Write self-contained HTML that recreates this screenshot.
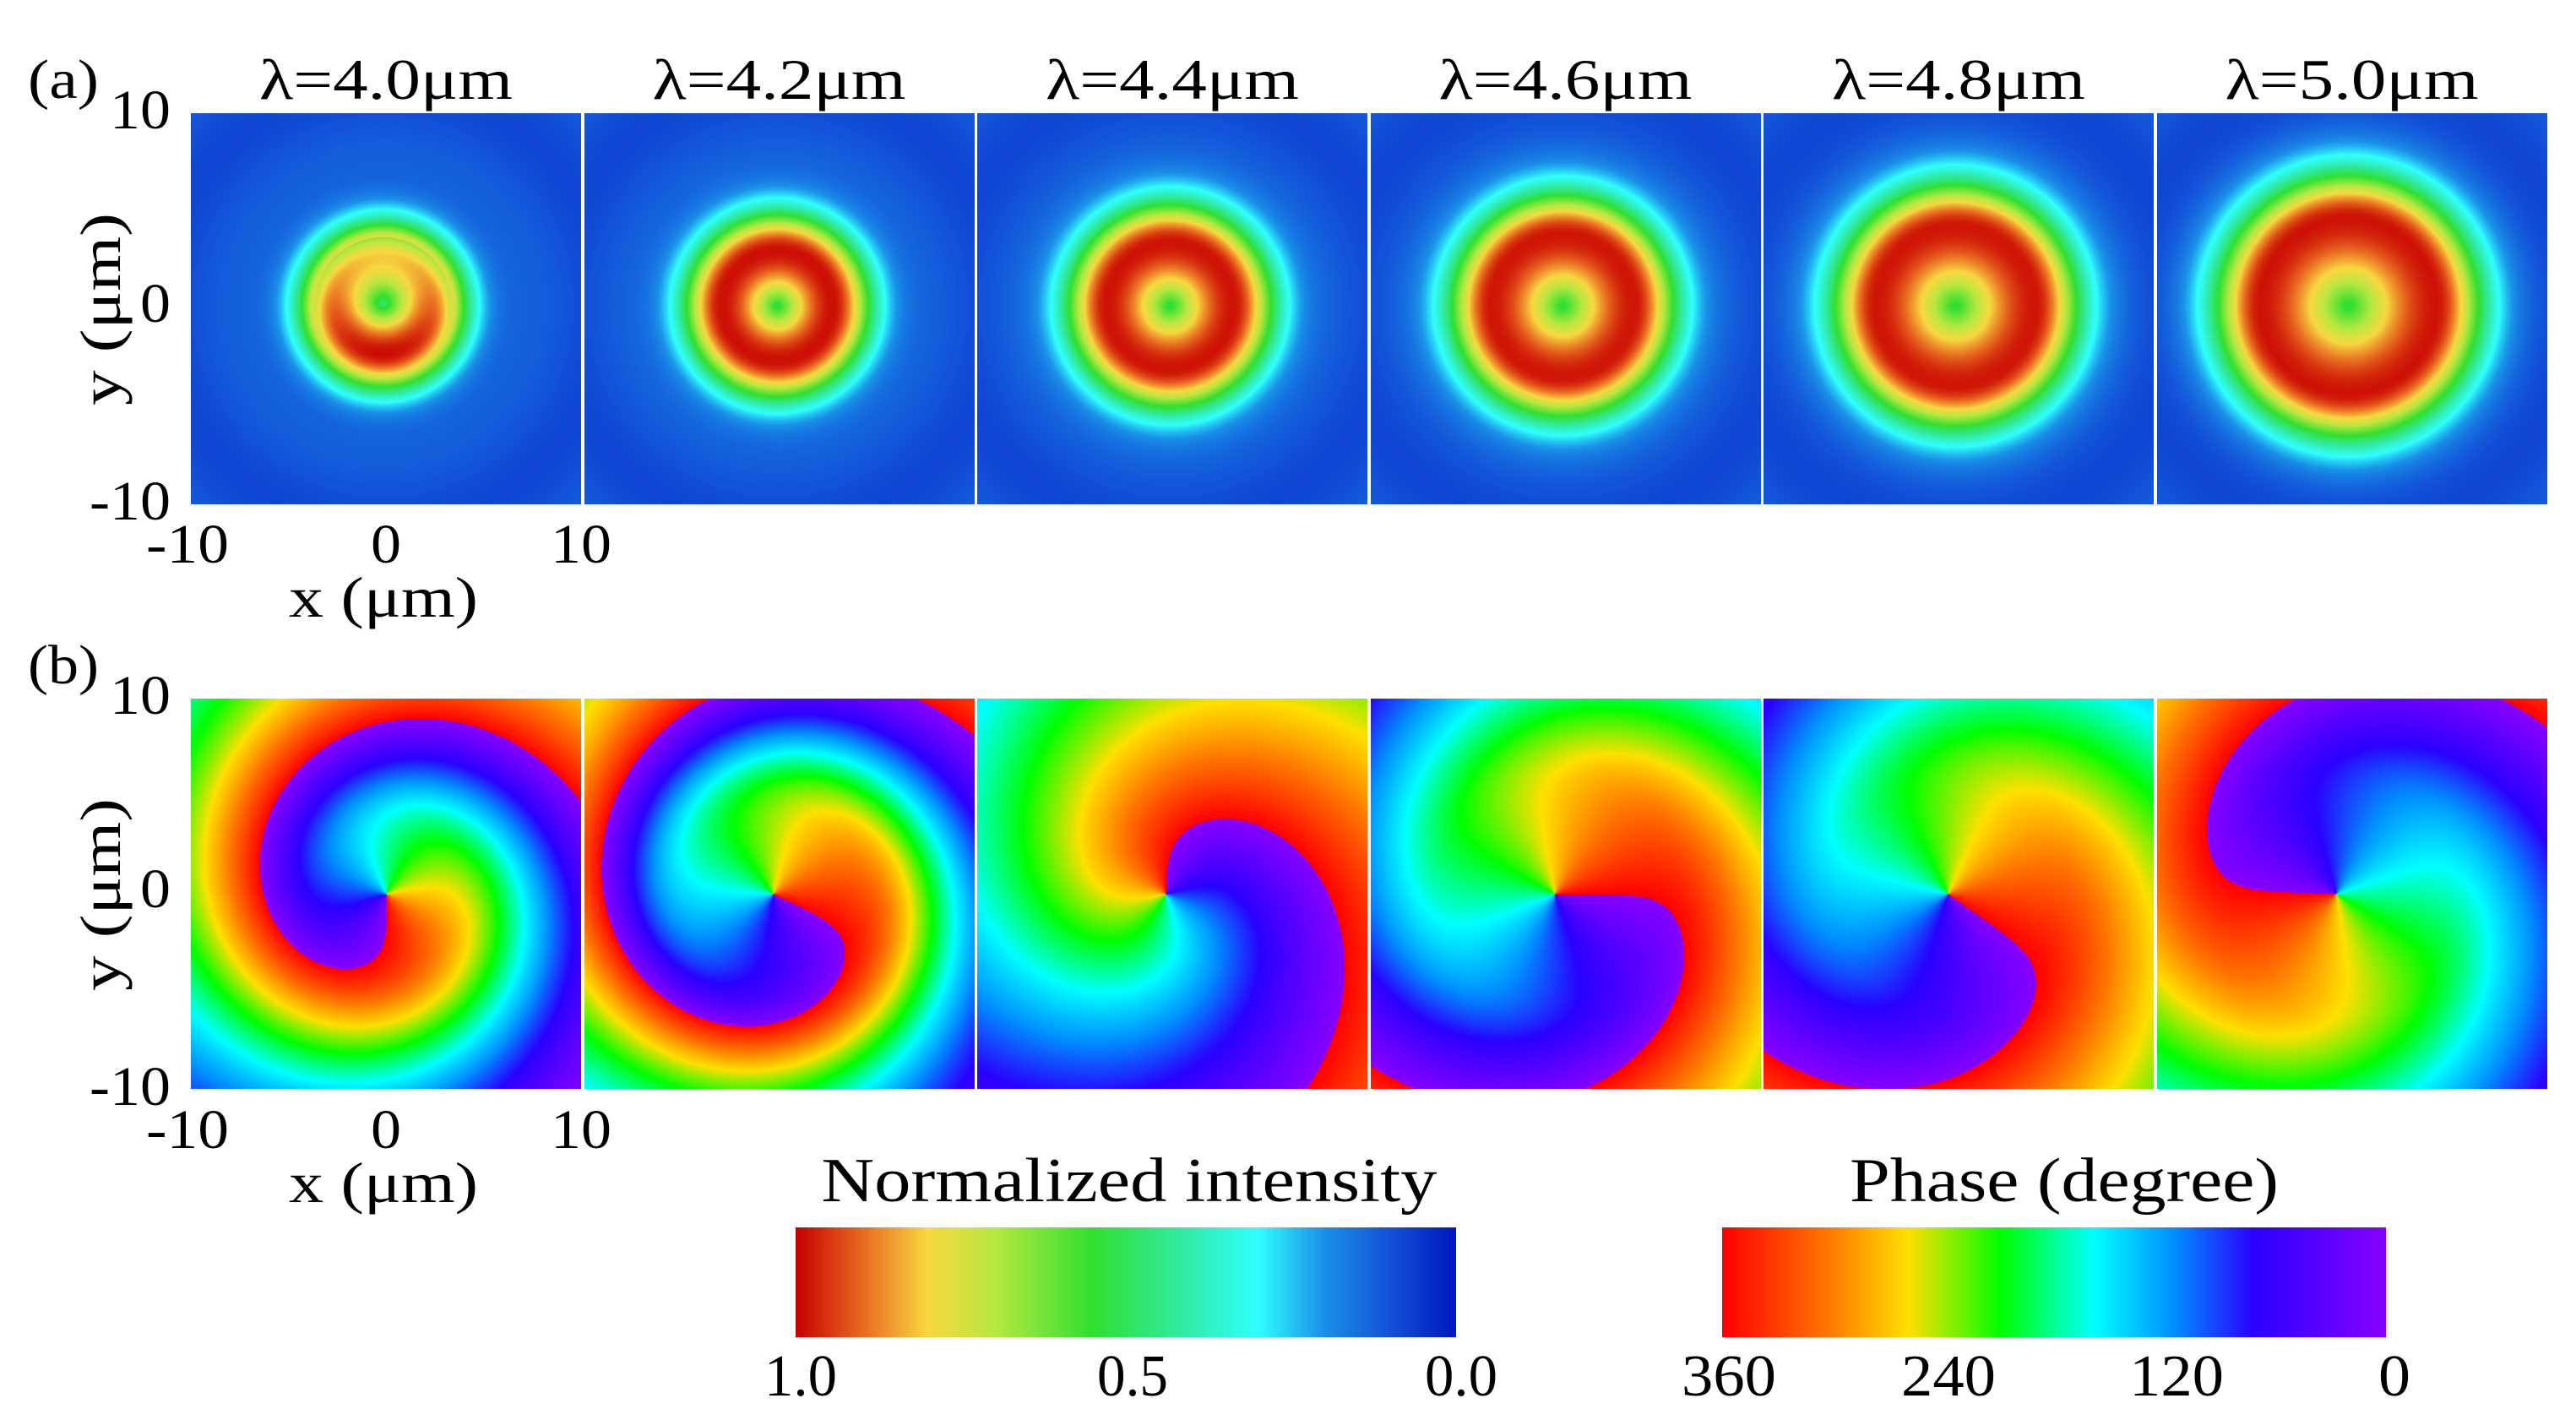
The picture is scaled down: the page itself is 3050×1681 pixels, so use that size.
<!DOCTYPE html>
<html><head><meta charset="utf-8"><style>
html,body{margin:0;padding:0;background:#fff;}
#root{position:relative;width:3050px;height:1681px;overflow:hidden;background:#fff;}
canvas{position:absolute;display:block;}
svg{position:absolute;left:0;top:0;}
text{font-family:"Liberation Serif",serif;fill:#000;}
</style></head><body>
<div id="root">
<svg id="txt" width="3050" height="1681"></svg>
</div>
<script>
// ---- data ----
var wavelengths = ["4.0","4.2","4.4","4.6","4.8","5.0"];
var ringRadius = [58,67,76,85,94,103];
var ringOuterWidth = [47,50,53,55,58,60];
var intCenterDx = [-4,-3,-3,-4,-4,-5];
var phaseStartAngle = [-88,-25,90,0,-35,178];
var phaseTwistRate = [1.8,2.3,0.7,1.0,0.8,0.9];
var phaseTwistStart = [95,130,60,150,150,150];
var phaseTwistMax = [400,380,300,300,300,300];
var phaseCenterDx = [0,-8,-8,-13,-13,-19];
var axisTicks = ["-10","0","10"];
var intensityTicks = ["1.0","0.5","0.0"];
var phaseTicks = ["360","240","120","0"];
var intStops = [[0,"#0018c0"],[0.1,"#1252d8"],[0.2,"#1a90e8"],[0.3,"#30ffff"],[0.42,"#30eaa0"],[0.55,"#30e030"],[0.7,"#b8e840"],[0.8,"#f8d840"],[0.9,"#e86a20"],[1,"#c80000"]];
var phaseStops = [[0,"#ff0000"],[0.15,"#ff7000"],[0.28,"#ffe000"],[0.42,"#00ff00"],[0.56,"#00ffff"],[0.68,"#0090ff"],[0.8,"#2a00ff"],[1,"#8800ff"]];

var PX0=226, PITCH=465.5, PW=462, ROWA=134, ROWB=827, PH=463;
var root=document.getElementById('root');
var svg=document.getElementById('txt');
var NS="http://www.w3.org/2000/svg";

function T(s,x,y,size,name,opt){
  opt=opt||{};
  var t=document.createElementNS(NS,'text');
  t.textContent=s;
  t.setAttribute('x',x);t.setAttribute('y',y);
  t.setAttribute('font-size',size);
  t.setAttribute('text-anchor',opt.anchor||'middle');
  if(opt.len){t.setAttribute('textLength',opt.len);t.setAttribute('lengthAdjust','spacingAndGlyphs');}
  if(opt.rot)t.setAttribute('transform','rotate(-90 '+x+' '+y+')');
  
  
  svg.appendChild(t);return t;
}
// ---- text ----
for(var i=0;i<wavelengths.length;i++){
  T('λ='+wavelengths[i]+'μm',PX0+i*PITCH+PW/2,117,68,'title-'+wavelengths[i],{len:300});
}
var rowsInfo=[[0,'a'],[693,'b']];
for(var q=0;q<2;q++){
  var off=rowsInfo[q][0], lab=rowsInfo[q][1];
  T('('+lab+')',33,116+off,66,'panel-label-'+lab,{anchor:'start',len:84});
  var yb=[615,381,152], ylen=[96,36,72];
  for(var j=0;j<3;j++) T(axisTicks[j],202,yb[j]+off,66,'y-tick-'+lab+'-'+j,{anchor:'end',len:ylen[j]});
  var xc=[222,457,688], xlen=[98,36,72];
  for(var j=0;j<3;j++) T(axisTicks[j],xc[j],666+off,66,'x-tick-'+lab+'-'+j,{len:xlen[j]});
  T('x (μm)',454,730+off,68,'x-axis-title-'+lab,{len:224});
  T('y (μm)',142,366+off,68,'y-axis-title-'+lab,{rot:true,len:228});
}
T('Normalized intensity',1337,1422,74,'intensity-colorbar-title',{len:729});
T('Phase (degree)',2444,1422,74,'phase-colorbar-title',{len:508});
var itx=[948,1341,1730], ilen=[86,84,86];
for(var j=0;j<3;j++) T(intensityTicks[j],itx[j],1652,70,'intensity-tick-'+j,{len:ilen[j]});
var ptx=[2047,2307,2577,2835], plen=[112,112,112,38];
for(var j=0;j<4;j++) T(phaseTicks[j],ptx[j],1652,70,'phase-tick-'+j,{len:plen[j]});

// ---- colour maps ----
function hex(h){return [parseInt(h.slice(1,3),16),parseInt(h.slice(3,5),16),parseInt(h.slice(5,7),16)];}
function makeMap(stops){
  var s=stops.map(function(a){return [a[0],hex(a[1])];});
  return function(v){
    if(!(v>=0))v=0; if(v>1)v=1;
    for(var i=1;i<s.length;i++){
      if(v<=s[i][0]){var t=(v-s[i-1][0])/(s[i][0]-s[i-1][0]);var a=s[i-1][1],b=s[i][1];
        return [a[0]+(b[0]-a[0])*t,a[1]+(b[1]-a[1])*t,a[2]+(b[2]-a[2])*t];}
    }
    return s[s.length-1][1];
  };
}
var intMap=makeMap(intStops), phaseMap=makeMap(phaseStops);

function makeCanvas(x,y,w,h){
  var c=document.createElement('canvas');c.width=w;c.height=h;
  c.style.left=x+'px';c.style.top=y+'px';root.insertBefore(c,svg);return c;
}
function softplus(x,s){var z=x/s; return z>30?x:s*Math.log(1+Math.exp(z));}

function drawIntensity(i){
  var x0=Math.round(PX0+i*PITCH);
  var ca=makeCanvas(x0,ROWA,PW,PH);
  
  
  var ctx=ca.getContext('2d');var img=ctx.createImageData(PW,PH);var d=img.data;
  var r0=ringRadius[i],win=r0/0.833,wout=ringOuterWidth[i],cx=PW/2+intCenterDx[i],cy=PH/2-4;
  for(var y=0;y<PH;y++)for(var x=0;x<PW;x++){
    var dx=x-cx,dy=y-cy,r=Math.sqrt(dx*dx+dy*dy);
    var w=r<r0?win:wout;
    var u=(r-r0)/w;
    var g=Math.exp(-u*u);
    if(r<r0) g=Math.pow(g,1.15);
    if(i===0&&r<r0*1.4) g*=0.9+0.1*(dy/(r+1));
    var v=0.1+0.9*g+0.02*Math.cos(r/28);
    var c=intMap(v),k=(y*PW+x)*4;
    d[k]=c[0];d[k+1]=c[1];d[k+2]=c[2];d[k+3]=255;
  }
  ctx.putImageData(img,0,0);
}
function drawPhase(i){
  var x0=Math.round(PX0+i*PITCH);
  var H=PH-1;
  var cb=makeCanvas(x0,ROWB,PW,H);
  
  
  var ctx=cb.getContext('2d');var img=ctx.createImageData(PW,H);var d=img.data;
  var px=PW/2+phaseCenterDx[i],py=H/2;
  var M=phaseTwistMax[i];
  for(var y=0;y<H;y++)for(var x=0;x<PW;x++){
    var dx=x-px,dy=y-py,r=Math.sqrt(dx*dx+dy*dy);
    var th=Math.atan2(-dy,dx)*180/Math.PI;
    var tw=phaseTwistRate[i]*softplus(r-phaseTwistStart[i],20);
    tw=M*Math.tanh(tw/M);
    var a=((th-phaseStartAngle[i]+tw)%360+720)%360;
    var c=phaseMap(a/360*0.999),k=(y*PW+x)*4;
    d[k]=c[0];d[k+1]=c[1];d[k+2]=c[2];d[k+3]=255;
  }
  ctx.putImageData(img,0,0);
}
function bar(x,w,map,name){
  var c=makeCanvas(x,1453,w,130);
  
  
  var ctx=c.getContext('2d');
  for(var j=0;j<w;j++){var v=map(j/(w-1));ctx.fillStyle='rgb('+Math.round(v[0])+','+Math.round(v[1])+','+Math.round(v[2])+')';ctx.fillRect(j,0,1,130);}
}
for(var i=0;i<wavelengths.length;i++){
  try{drawIntensity(i);}catch(e){}
  try{drawPhase(i);}catch(e){}
}
try{bar(942,782,function(v){return intMap(1-v);},'intensity-colorbar');}catch(e){}
try{bar(2039,786,function(v){return phaseMap(v);},'phase-colorbar');}catch(e){}
</script>
</body></html>
